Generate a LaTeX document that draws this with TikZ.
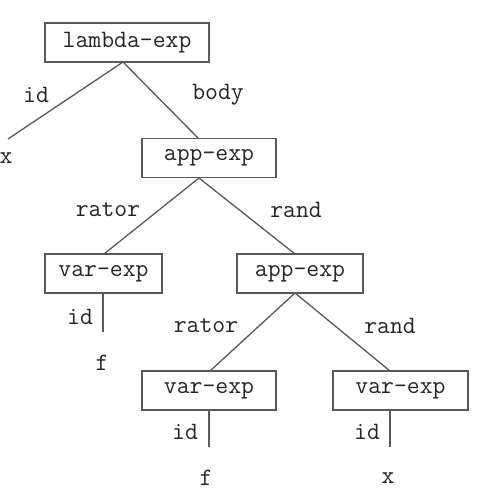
\documentclass[tikz,border=0pt]{standalone}
\begin{document}
\begin{tikzpicture}[x=1pt,y=-1pt,
  every node/.style={font=\ttfamily\fontsize{25}{28}\selectfont, text=black!85, inner sep=0pt},
  box/.style={draw=black!65, line width=1.4pt, minimum height=39pt, fill=white},
  edge/.style={draw=black!65, line width=1.3pt}]
\useasboundingbox[fill=white] (0,0) rectangle (478,494);
% boxes
\node[box, minimum width=164pt] (lam) at (127,42.5) {lambda-exp};
\node[box, minimum width=134pt] (app1) at (209,158) {app-exp};
\node[box, minimum width=117pt] (var1) at (103.5,273.5) {var-exp};
\node[box, minimum width=126pt] (app2) at (300,273.5) {app-exp};
\node[box, minimum width=134pt] (var2) at (209,390.5) {var-exp};
\node[box, minimum width=135pt] (var3) at (400.5,390.5) {var-exp};
% leaves
\node (x1) at (6,158) {x};
\node (f1) at (102,363) {f};
\node (f2) at (206,478) {f};
\node (x2) at (388,478) {x};
% coordinates
\coordinate (lamb) at (123,62);
\coordinate (idend) at (8,139);
\coordinate (app1t) at (198,138);
\coordinate (app1b) at (199,178);
\coordinate (var1t) at (104,254);
\coordinate (app2t) at (295,254);
\coordinate (var1b) at (103,293);
\coordinate (var1e) at (103,332);
\coordinate (app2b) at (295,293);
\coordinate (var2t) at (210,371);
\coordinate (var3t) at (390,371);
\coordinate (var2b) at (209,410);
\coordinate (var2e) at (209,447);
\coordinate (var3b) at (390,410);
\coordinate (var3e) at (390,447);
% edges
\draw[edge] (lamb) -- (idend);
\draw[edge] (lamb) -- (app1t);
\draw[edge] (app1b) -- (var1t);
\draw[edge] (app1b) -- (app2t);
\draw[edge] (var1b) -- (var1e);
\draw[edge] (app2b) -- (var2t);
\draw[edge] (app2b) -- (var3t);
\draw[edge] (var2b) -- (var2e);
\draw[edge] (var3b) -- (var3e);
% labels
\node (l1) at (36,95) {id};
\node (l2) at (218,95) {body};
\node (l3) at (108,210) {rator};
\node (l4) at (296,210) {rand};
\node (l5) at (80,317) {id};
\node (l6) at (206,326) {rator};
\node (l7) at (390,326) {rand};
\node (l8) at (185,432) {id};
\node (l9) at (367,432) {id};
\end{tikzpicture}
\end{document}
